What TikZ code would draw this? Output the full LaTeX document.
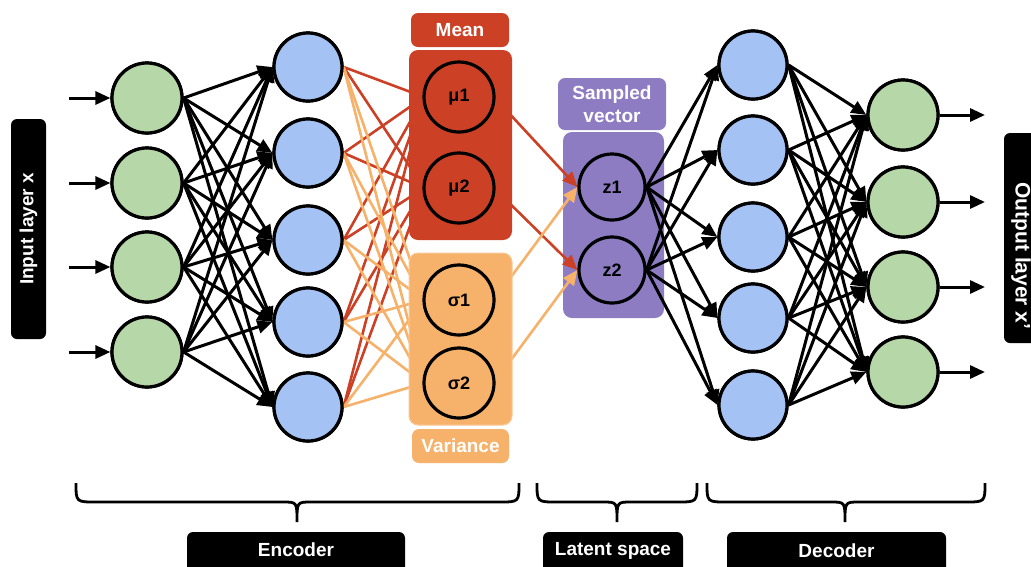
\documentclass[tikz,border=0pt]{standalone}
\usepackage{fontspec}
\setmainfont{Liberation Sans}
\usetikzlibrary{arrows.meta,calc}
\definecolor{ngreen}{HTML}{B6D7A8}
\definecolor{nblue}{HTML}{A4C2F4}
\definecolor{mred}{HTML}{CC4125}
\definecolor{morange}{HTML}{F6B26B}
\definecolor{mpurple}{HTML}{8E7CC3}
\tikzset{
  neuron/.style={circle, draw=black, line width=3.2pt, inner sep=0pt},
  gnode/.style={neuron, fill=ngreen, minimum size=70pt},
  bnode/.style={neuron, fill=nblue, minimum size=68pt},
  inode/.style={neuron, minimum size=70pt, font=\bfseries\fontsize{18}{20}\selectfont},
  znode/.style={neuron, minimum size=66pt, font=\bfseries\fontsize{18}{20}\selectfont},
  conn/.style={draw=black, line width=3pt, -{Triangle[length=15pt,width=13pt]}},
  redline/.style={draw=mred, line width=2.6pt},
  orline/.style={draw=morange, line width=2.6pt},
  redarrow/.style={redline, -{Triangle[length=15pt,width=13pt]}},
  orarrow/.style={orline, -{Triangle[length=15pt,width=13pt]}},
  panel/.style={rectangle, rounded corners=9pt, inner sep=0pt},
  hdr/.style={rectangle, rounded corners=7pt, inner sep=0pt, text=white,
    font=\bfseries\fontsize{19}{23}\selectfont, align=center},
  labbox/.style={rectangle, rounded corners=6pt, fill=black, inner sep=0pt, text=white,
    font=\bfseries\fontsize{19}{22}\selectfont},
  bracepath/.style={draw=black, line width=2.8pt}
}
\begin{document}
\begin{tikzpicture}[x=1pt,y=-1pt]
\useasboundingbox (0,0) rectangle (1031,566);
\fill[white] (0,0) rectangle (1031,566);

% side labels
\node[labbox, rotate=90, minimum width=220pt, minimum height=35pt] (inlab) at (28.5,229) {Input layer x};
\node[labbox, minimum width=42pt, minimum height=210pt] (outbox) at (1025,238) {};
\node[text=white, font=\bfseries\fontsize{21}{23}\selectfont, rotate=-90, inner sep=0pt] (outlab) at (1021,256) {Output layer x'};

% input neurons
\foreach \i/\y in {1/98,2/183,3/267,4/352} {
  \node[gnode] (g\i) at (147,\y) {};
  \coordinate (in\i) at (69,\y);
}
% encoder hidden
\foreach \i/\y in {1/67,2/153,3/240,4/322,5/407} \node[bnode] (b\i) at (308,\y) {};
% decoder hidden
\foreach \i/\y in {1/65,2/150,3/237,4/318,5/405} \node[bnode] (d\i) at (753,\y) {};
% outputs
\foreach \i/\y in {1/115,2/202,3/287,4/372} {
  \node[gnode] (o\i) at (903,\y) {};
  \coordinate (out\i) at (985,\y);
}

% coordinates for latent nodes (drawn later)
\coordinate (mu1c) at (459,97);
\coordinate (mu2c) at (459,188);
\coordinate (s1c) at (459,300);
\coordinate (s2c) at (459,383);

% input arrows
\foreach \i in {1,...,4} \draw[conn] (in\i) -- (g\i.west);
% input -> encoder hidden
\foreach \i in {1,...,4} \foreach \j in {1,...,5} \draw[conn] (g\i.east) -- (b\j.west);

% encoder hidden -> mean / variance
\foreach \j in {1,...,5} {
  \draw[redline] (b\j.east) -- ($(mu1c)+(-35,0)$);
  \draw[redline] (b\j.east) -- ($(mu2c)+(-35,0)$);
}
\foreach \j in {1,...,5} {
  \draw[orline] (b\j.east) -- ($(s1c)+(-35,0)$);
  \draw[orline] (b\j.east) -- ($(s2c)+(-35,0)$);
}

% sampled vector panel
\node[hdr, fill=mpurple, minimum width=108pt, minimum height=52pt] (samphdr) at (612,104) {Sampled\\vector};
\node[panel, fill=mpurple, minimum width=101pt, minimum height=186pt] (samppanel) at (613.5,225) {};
\node[znode] (z1) at (612,187) {z1};
\node[znode] (z2) at (612,270) {z2};

% mean / variance -> z
\draw[redarrow] ($(mu1c)+(35,0)$) -- (z1.west);
\draw[redarrow] ($(mu2c)+(35,0)$) -- (z2.west);
\draw[orarrow] ($(s1c)+(35,0)$) -- (z1.west);
\draw[orarrow] ($(s2c)+(35,0)$) -- (z2.west);

% mean / variance panels
\node[hdr, fill=mred, minimum width=98pt, minimum height=34pt] (meanhdr) at (460,30) {Mean};
\node[panel, fill=mred, minimum width=103pt, minimum height=190pt] (meanpanel) at (460.5,145) {};
\node[panel, fill=morange, draw=morange!70!white, line width=1pt, minimum width=103pt, minimum height=172pt] (varpanel) at (460.5,339) {};
\node[hdr, fill=morange, minimum width=97pt, minimum height=34pt] (varhdr) at (460.5,446) {Variance};
\node[inode] (mu1) at (mu1c) {μ1};
\node[inode] (mu2) at (mu2c) {μ2};
\node[inode] (s1) at (s1c) {σ1};
\node[inode] (s2) at (s2c) {σ2};

% z -> decoder hidden
\foreach \i in {1,2} \foreach \j in {1,...,5} \draw[conn] (z\i.east) -- (d\j.west);
% decoder hidden -> outputs
\foreach \i in {1,...,5} \foreach \j in {1,...,4} \draw[conn] (d\i.east) -- (o\j.west);
% output arrows
\foreach \i in {1,...,4} \draw[conn] (o\i.east) -- (out\i);

% redraw circles on top of arrow tails
\foreach \i/\y in {1/98,2/183,3/267,4/352} \node[gnode] at (147,\y) {};
\foreach \i/\y in {1/67,2/153,3/240,4/322,5/407} \node[bnode] at (308,\y) {};
\foreach \i/\y in {1/65,2/150,3/237,4/318,5/405} \node[bnode] at (753,\y) {};
\foreach \i/\y in {1/115,2/202,3/287,4/372} \node[gnode] at (903,\y) {};

% braces
\draw[bracepath] (76,483) .. controls (76,502) .. (96,502) -- (283,502)
  .. controls (297,502) .. (297,522) .. controls (297,502) .. (311,502)
  -- (499,502) .. controls (519,502) .. (519,483);
\draw[bracepath] (537,483) .. controls (537,502) .. (557,502) -- (603,502)
  .. controls (617,502) .. (617,522) .. controls (617,502) .. (631,502)
  -- (677,502) .. controls (697,502) .. (697,483);
\draw[bracepath] (707,483) .. controls (707,502) .. (727,502) -- (831,502)
  .. controls (845,502) .. (845,522) .. controls (845,502) .. (859,502)
  -- (965,502) .. controls (985,502) .. (985,483);

% bottom labels
\node[labbox, minimum width=218pt, minimum height=44pt] (enc) at (296,554) {};
\node[text=white, font=\bfseries\fontsize{19}{22}\selectfont, inner sep=0pt] (enct) at (296,550) {Encoder};
\node[labbox, minimum width=140pt, minimum height=44pt] (lat) at (613,554) {};
\node[text=white, font=\bfseries\fontsize{19}{22}\selectfont, inner sep=0pt] (latt) at (613,551) {Latent space};
\node[labbox, minimum width=219pt, minimum height=44pt] (dec) at (836.5,554) {};
\node[text=white, font=\bfseries\fontsize{19}{22}\selectfont, inner sep=0pt] (dect) at (836.5,551) {Decoder};
\end{tikzpicture}
\end{document}
